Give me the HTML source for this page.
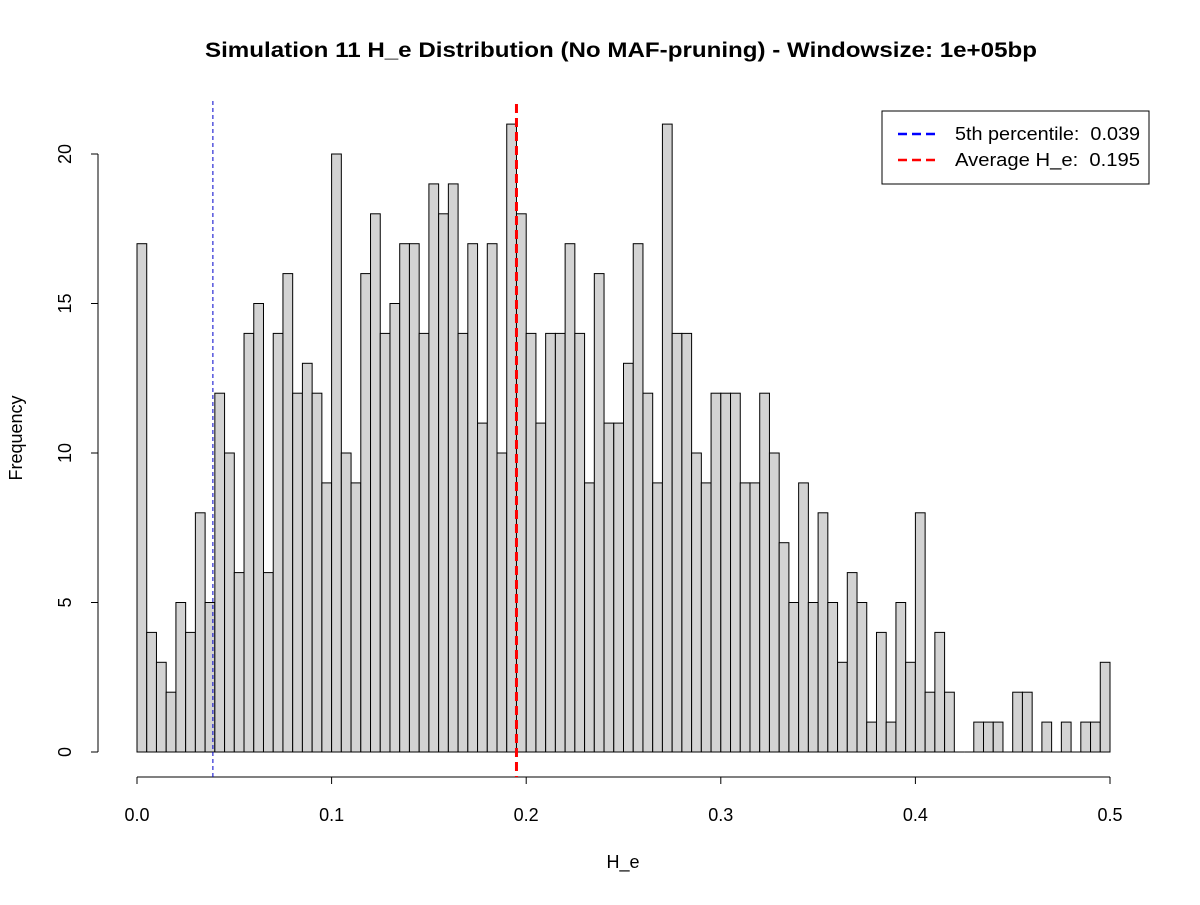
<!DOCTYPE html>
<html><head><meta charset="utf-8"><style>body{margin:0;background:#fff}svg{font-family:"Liberation Sans",sans-serif}</style></head>
<body>
<svg id="chart" width="1200" height="900" viewBox="0 0 1200 900" xmlns="http://www.w3.org/2000/svg">
<rect width="1200" height="900" fill="#fff"/>
<text x="205" y="57" font-size="21" font-weight="bold" textLength="832" lengthAdjust="spacingAndGlyphs">Simulation 11 H_e Distribution (No MAF-pruning) - Windowsize: 1e+05bp</text>
<g id="bars"></g>
<g id="axes"></g>
<g id="lines"></g>
<text x="623" y="868" text-anchor="middle" font-size="18">H_e</text>
<text transform="translate(22,438) rotate(-90)" text-anchor="middle" font-size="18">Frequency</text>
<g>
<rect x="882" y="111" width="267" height="73" fill="#fff" stroke="#000" stroke-width="1"/>
<line x1="898" y1="134" x2="938" y2="134" stroke="#0000ff" stroke-width="2.5" stroke-dasharray="9,5"/>
<text x="955" y="140" font-size="18" xml:space="preserve" textLength="185" lengthAdjust="spacingAndGlyphs">5th percentile:  0.039</text>
<line x1="898" y1="160" x2="938" y2="160" stroke="#ff0000" stroke-width="2.5" stroke-dasharray="9,5"/>
<text x="955" y="166" font-size="18" xml:space="preserve" textLength="185" lengthAdjust="spacingAndGlyphs">Average H_e:  0.195</text>
</g>
</svg>
<script>
const binStart = 0, binWidth = 0.005;
const counts = [17,4,3,2,5,4,8,5,12,10,
6,14,15,6,14,16,12,13,12,9,
20,10,9,16,18,14,15,17,17,14,
19,18,19,14,17,11,17,10,21,18,
14,11,14,14,17,14,9,16,11,11,
13,17,12,9,21,14,14,10,9,12,
12,12,9,9,12,10,7,5,9,5,
8,5,3,6,5,1,4,1,5,3,
8,2,4,2,0,0,1,1,1,0,
2,2,0,1,0,1,0,1,1,3];
const xTicks = [0,0.1,0.2,0.3,0.4,0.5];
const xTickLabels = ["0.0","0.1","0.2","0.3","0.4","0.5"];
const yTicks = [0,5,10,15,20];
const percentile5 = 0.039;
const averageHe = 0.195;

const NS = "http://www.w3.org/2000/svg";
const xs = v => 137 + (v - 0) / 0.5 * 973;
const ys = v => 752 - v / 20 * 598;
function mk(tag, attrs, parent){const e=document.createElementNS(NS,tag);for(const k in attrs)e.setAttribute(k,attrs[k]);parent.appendChild(e);return e;}
const bars = document.getElementById('bars');
counts.forEach((c,i)=>{
  if(c===0){const l=mk('line',{x1:xs(binStart+i*binWidth),x2:xs(binStart+(i+1)*binWidth),y1:ys(0),y2:ys(0),stroke:'#000'},bars);
    
    return;}
  const r = mk('rect',{x:xs(binStart+i*binWidth),y:ys(c),width:xs(binStart+(i+1)*binWidth)-xs(binStart+i*binWidth),height:ys(0)-ys(c),fill:'#d3d3d3',stroke:'#000','stroke-width':1},bars);
  
  
});
const axes = document.getElementById('axes');
const xa = mk('line',{x1:xs(xTicks[0]),x2:xs(xTicks[xTicks.length-1]),y1:777,y2:777,stroke:'#000'},axes);


xTicks.forEach((t,i)=>{
  mk('line',{x1:xs(t),x2:xs(t),y1:777,y2:784,stroke:'#000'},axes);
  const tx = mk('text',{x:xs(t),y:821,'text-anchor':'middle','font-size':18},axes);
  tx.textContent = xTickLabels[i];
  
  
});
const ya = mk('line',{x1:98,x2:98,y1:ys(yTicks[0]),y2:ys(yTicks[yTicks.length-1]),stroke:'#000'},axes);


yTicks.forEach(t=>{
  mk('line',{x1:91,x2:98,y1:ys(t),y2:ys(t),stroke:'#000'},axes);
  const tx = mk('text',{transform:`translate(71,${ys(t)}) rotate(-90)`,'text-anchor':'middle','font-size':18},axes);
  tx.textContent = String(t);
  
  
});
const lines = document.getElementById('lines');
const bl = mk('line',{x1:xs(percentile5),x2:xs(percentile5),y1:101,y2:777,stroke:'#0000cc','stroke-width':1,'stroke-dasharray':'4,3'},lines);


const rl = mk('line',{x1:xs(averageHe),x2:xs(averageHe),y1:104,y2:777,stroke:'#ff0000','stroke-width':3,'stroke-dasharray':'9,5'},lines);


</script>
</body></html>
